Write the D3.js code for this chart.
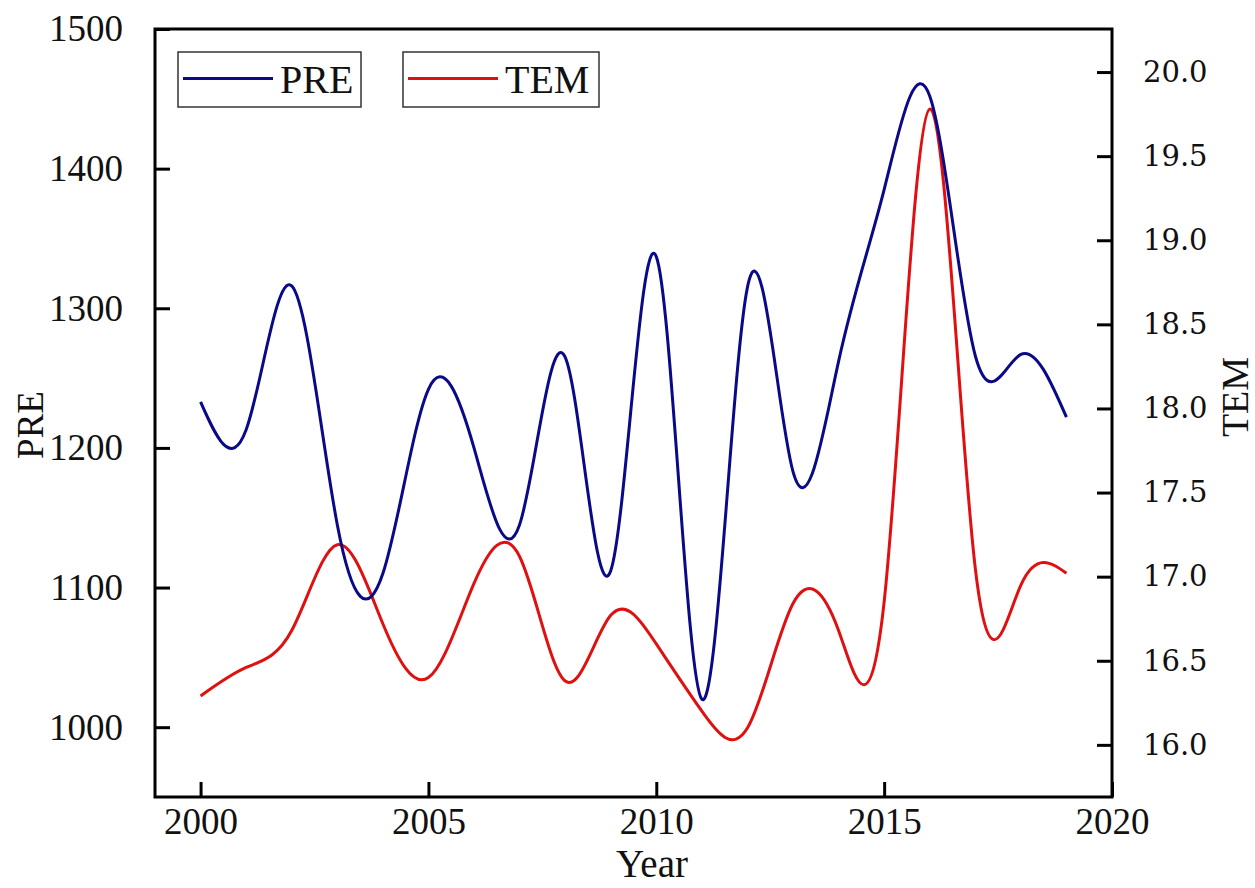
<!DOCTYPE html>
<html>
<head>
<meta charset="utf-8">
<script src="https://cdn.jsdelivr.net/npm/d3@7"></script>
<style>
  body { margin: 0; background: #fff; }
  text { fill: #111; }
</style>
</head>
<body>
<svg id="chart" width="1255" height="888"></svg>
<script>
// yearly series
var years = [2000, 2001, 2002, 2003, 2004, 2005, 2006, 2007, 2008, 2009,
             2010, 2011, 2012, 2013, 2014, 2015, 2016, 2017, 2018, 2019];
var pre = [1233, 1213, 1316, 1145, 1110, 1242, 1200, 1145, 1265, 1112,
           1337, 1020, 1315, 1183, 1262, 1385, 1452, 1266, 1267, 1222];
var tem = [16.29, 16.46, 16.68, 17.19, 16.72, 16.40, 16.96, 17.12, 16.38, 16.77,
           16.60, 16.20, 16.10, 16.84, 16.68, 16.85, 19.78, 17.05, 16.95, 17.02];

var yearTicks = [2000, 2005, 2010, 2015, 2020];
var preTicks = [1000, 1100, 1200, 1300, 1400, 1500];
var temTicks = [16.0, 16.5, 17.0, 17.5, 18.0, 18.5, 19.0, 19.5, 20.0];

var seriesNames = ["PRE", "TEM"];
var seriesColors = ["#0a0a88", "#e01010"];

var svg = d3.select("#chart");
var plotL = 155, plotR = 1112, plotT = 29, plotB = 797;
var serif = "'Liberation Serif', 'Times New Roman', serif";

var x = d3.scaleLinear().domain([1999, 2020]).range([plotL, plotR]);
var yL = d3.scaleLinear().domain([950, 1500]).range([plotB, plotT]);
var yR = d3.scaleLinear().domain([15.69, 20.256]).range([plotB, plotT]);

// axes: ticks point inward
var xAxis = d3.axisBottom(x).tickValues(yearTicks).tickSizeInner(-15).tickSizeOuter(0).tickPadding(30).tickFormat(d3.format("d"));
var lAxis = d3.axisLeft(yL).tickValues(preTicks).tickSizeInner(-15).tickSizeOuter(0).tickPadding(32).tickFormat(d3.format("d"));
var rAxis = d3.axisRight(yR).tickValues(temTicks).tickSizeInner(-15).tickSizeOuter(0).tickPadding(31).tickFormat(d3.format(".1f"));

var gx = svg.append("g").attr("transform", "translate(0," + plotB + ")").call(xAxis);
var gl = svg.append("g").attr("transform", "translate(" + plotL + ",0)").call(lAxis);
var gr = svg.append("g").attr("transform", "translate(" + plotR + ",0)").call(rAxis);

[gx, gl, gr].forEach(function(g) {
  g.select(".domain").remove();
  g.selectAll(".tick line").attr("stroke", "#000").attr("stroke-width", 3);
  g.selectAll(".tick text").style("font-family", serif).style("font-size", "37px").attr("fill", "#111");
});
gx.selectAll(".tick text").attr("dy", "0.2em");
gr.selectAll(".tick text").style("font-family", "'DejaVu Serif', serif").style("font-size", "29px");

// frame
svg.append("rect")
  .attr("x", plotL).attr("y", plotT)
  .attr("width", plotR - plotL).attr("height", plotB - plotT)
  .attr("fill", "none").attr("stroke", "#000").attr("stroke-width", 3);

// curves
var linePre = d3.line()
  .x(function(d, i) { return x(years[i]); })
  .y(function(d) { return yL(d); })
  .curve(d3.curveNatural);
var lineTem = d3.line()
  .x(function(d, i) { return x(years[i]); })
  .y(function(d) { return yR(d); })
  .curve(d3.curveNatural);

svg.append("path").datum(tem)
  .attr("d", lineTem).attr("fill", "none")
  .attr("stroke", seriesColors[1]).attr("stroke-width", 3);
svg.append("path").datum(pre)
  .attr("d", linePre).attr("fill", "none")
  .attr("stroke", seriesColors[0]).attr("stroke-width", 3);

// axis titles
svg.append("text").attr("x", 652).attr("y", 877).attr("text-anchor", "middle")
  .style("font-family", serif).style("font-size", "39px").text("Year");
svg.append("text").attr("transform", "translate(43,425) rotate(-90)").attr("text-anchor", "middle")
  .style("font-family", serif).style("font-size", "37px").text("PRE");
svg.append("text").attr("transform", "translate(1248,397) rotate(-90)").attr("text-anchor", "middle")
  .style("font-family", serif).style("font-size", "38px").text("TEM");

// legend boxes
var legendX = [178, 403], legendW = [183, 196];
seriesNames.forEach(function(name, i) {
  var g = svg.append("g").attr("transform", "translate(" + legendX[i] + ",52)");
  g.append("rect").attr("width", legendW[i]).attr("height", 55)
    .attr("fill", "#fff").attr("stroke", "#333").attr("stroke-width", 1.5);
  g.append("line").attr("x1", 5).attr("x2", 95).attr("y1", 26.5).attr("y2", 26.5)
    .attr("stroke", seriesColors[i]).attr("stroke-width", 3);
  g.append("text").attr("x", 102).attr("y", 40.5)
    .style("font-family", serif).style("font-size", "40px").text(name);
});
</script>
</body>
</html>
